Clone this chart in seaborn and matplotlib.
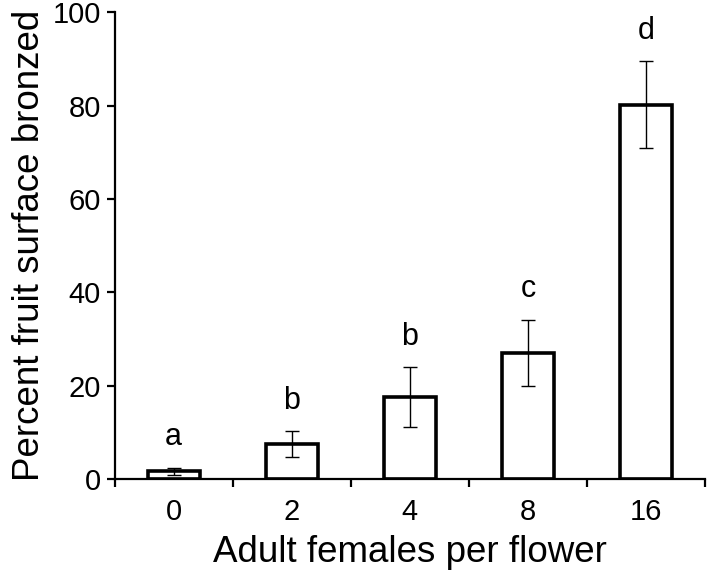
import numpy as np
import pandas as pd
import seaborn as sns
import matplotlib.pyplot as plt

females = ['0', '2', '4', '8', '16']
bronzed = [1.6, 7.5, 17.6, 27.0, 80.2]
se = [0.8, 2.8, 6.4, 7.1, 9.3]
letters = ['a', 'b', 'b', 'c', 'd']

df = pd.DataFrame({'females': females, 'bronzed': bronzed})

sns.set_style('white')
plt.rcParams['font.family'] = ['Liberation Sans', 'DejaVu Sans']
plt.rcParams['text.color'] = 'black'
plt.rcParams['axes.labelcolor'] = 'black'
plt.rcParams['xtick.color'] = 'black'
plt.rcParams['ytick.color'] = 'black'

fig = plt.figure(figsize=(7.08, 5.84), dpi=100)
ax = fig.add_axes([0.162, 0.180, 0.834, 0.799])

sns.barplot(data=df, x='females', y='bronzed', color='white', edgecolor='black',
            linewidth=2.6, width=0.44, ax=ax)

xpos = np.arange(len(females))
ax.errorbar(xpos, bronzed, yerr=se, fmt='none', ecolor='black',
            elinewidth=1.0, capsize=5, capthick=1.0)

# буквы значимости над планками погрешностей
for x, m, e, t in zip(xpos, bronzed, se, letters):
    ax.annotate(t, (x, m + e), xytext=(0, 11), textcoords='offset points',
                ha='center', va='bottom', fontsize=22)

ax.set_xlim(-0.5, 4.5)
ax.set_ylim(0, 100)
ax.set_yticks([0, 20, 40, 60, 80, 100])
ax.set_xticks(xpos)
ax.set_xticks(np.arange(-0.5, 5, 1), minor=True)
ax.tick_params(axis='x', which='major', length=0, labelsize=21, pad=14)
ax.tick_params(axis='x', which='minor', length=6, width=1.6, direction='out', bottom=True)
ax.tick_params(axis='y', length=6, width=1.6, direction='out', left=True, labelsize=21, pad=4)

for s in ['top', 'right']:
    ax.spines[s].set_visible(False)
for s in ['left', 'bottom']:
    ax.spines[s].set_linewidth(1.6)
    ax.spines[s].set_color('black')

ax.set_xlabel('Adult females per flower', fontsize=26.5, labelpad=6)
ax.set_ylabel('Percent fruit surface bronzed', fontsize=26.5, labelpad=4)

plt.savefig('out.png', dpi=100)
